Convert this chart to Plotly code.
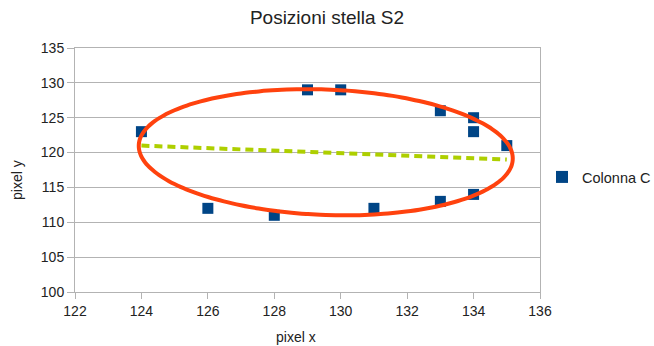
import numpy as np
import plotly.graph_objects as go

# Measured star positions (pixel coordinates)
pixel_x = [124, 126, 128, 129, 130, 131, 133, 133, 134, 134, 134, 135]
pixel_y = [123, 112, 111, 129, 129, 112, 126, 113, 125, 123, 114, 121]

# Overlay guides: outline of the orbit and its major axis
orbit_center = (129.55, 120.05)
orbit_semi_x = 5.63
orbit_semi_y = 9.0
orbit_shear = -0.16
axis_x = [124.0, 135.0]
axis_y = [121.0, 119.0]

FONT = "Liberation Sans"
GRID = "#b3b3b3"

t = np.linspace(0, 2 * np.pi, 121)
ox = orbit_center[0] + orbit_semi_x * np.cos(t)
oy = orbit_center[1] + orbit_semi_y * np.sin(t) + orbit_shear * orbit_semi_x * np.cos(t)

fig = go.Figure()
fig.add_trace(go.Scatter(
    x=pixel_x, y=pixel_y, mode="markers", name="Colonna C",
    marker=dict(symbol="square", size=11, color="#004586"),
))
fig.add_trace(go.Scatter(
    x=ox, y=oy, mode="lines", showlegend=False, hoverinfo="skip",
    line=dict(color="#ff420e", width=4, shape="spline", smoothing=1),
))
fig.add_trace(go.Scatter(
    x=axis_x, y=axis_y, mode="lines", showlegend=False, hoverinfo="skip",
    line=dict(color="#aecf00", width=4, dash="8px,5px"),
))

fig.update_layout(
    width=654, height=346,
    margin=dict(l=75, r=114, t=48, b=54, autoexpand=False),
    paper_bgcolor="white", plot_bgcolor="white",
    font=dict(family=FONT, size=14, color="#222222"),
    title=dict(text="Posizioni stella S2", x=0.5, xanchor="center",
               y=1 - 17 / 346, yanchor="middle", yref="container",
               font=dict(size=19, color="#222222")),
    legend=dict(x=(542 - 75) / 465, xanchor="left", y=(292 - 177) / 244,
                yanchor="middle", font=dict(size=14.5), itemsizing="constant",
                bgcolor="rgba(0,0,0,0)"),
    xaxis=dict(range=[122, 136], dtick=2, showgrid=False, zeroline=False,
               showline=True, linecolor=GRID, linewidth=1, mirror=True,
               ticks="outside", ticklen=6, tickcolor=GRID),
    yaxis=dict(range=[100, 135], dtick=5, showgrid=True, gridcolor=GRID,
               zeroline=False, showline=True, linecolor=GRID, linewidth=1,
               mirror=True, ticks="outside", ticklen=7, tickcolor=GRID),
    annotations=[
        dict(text="pixel x", xref="paper", yref="paper", x=(296 - 75) / 465,
             y=-45 / 244, xanchor="center", yanchor="middle", showarrow=False,
             font=dict(size=14)),
        dict(text="pixel y", xref="paper", yref="paper", x=-58 / 465,
             y=(292 - 180) / 244, xanchor="center", yanchor="middle",
             showarrow=False, textangle=-90, font=dict(size=14)),
    ],
)

fig.write_html("out.html")
